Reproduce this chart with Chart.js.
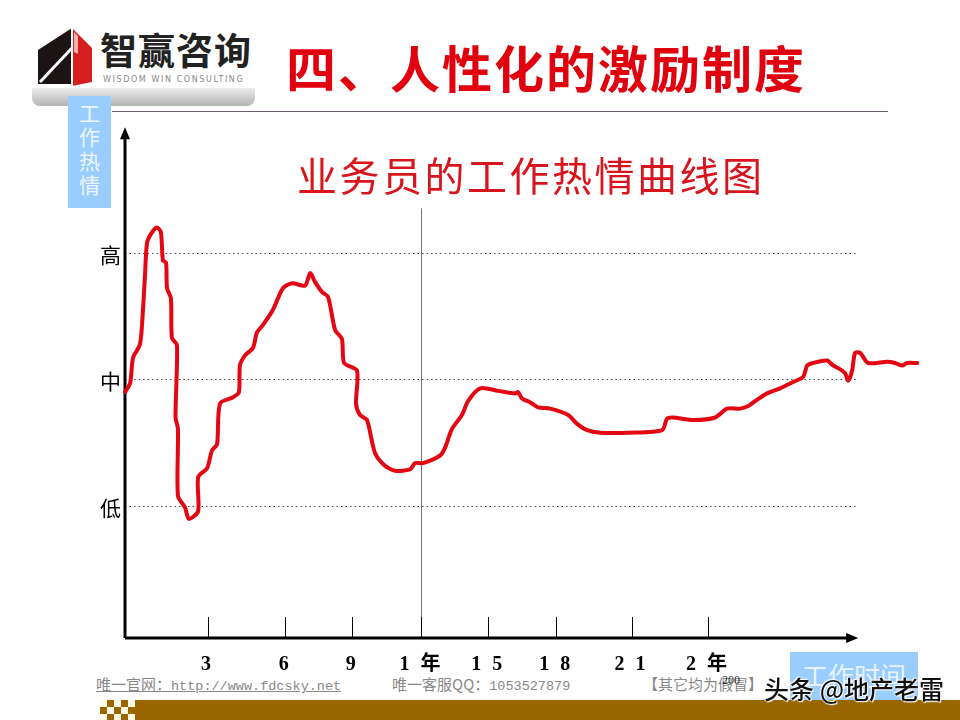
<!DOCTYPE html>
<html>
<head>
<meta charset="utf-8">
<script src="https://cdn.jsdelivr.net/npm/chart.js@4/dist/chart.umd.min.js"></script>
<style>
  html, body { margin: 0; padding: 0; background: #fff; }
  #wrap { position: relative; width: 960px; height: 720px; overflow: hidden; background: #fff; font-family: "Noto Sans CJK SC", "Noto Sans", sans-serif; }
  #chart { position: absolute; left: 0; top: 0; }
  .abs { position: absolute; white-space: nowrap; }
</style>
</head>
<body>
<div id="wrap">
  <!-- header -->
  <div class="abs" style="left:32px;top:86px;width:223px;height:20px;border-radius:0 0 8px 8px;background:linear-gradient(#f2f2f2,#b4b4b4);"></div>
  <div class="abs" style="left:30px;top:22px;width:226px;height:66px;background:#fff;"></div>
  <svg class="abs" style="left:34px;top:24px" width="64" height="64" viewBox="0 0 64 64">
    <polygon points="4,26 38,4 38,60 4,60" fill="#1c1414"/>
    <polygon points="38,4 58,24 58,58 38,62" fill="#d62020"/>
    <polygon points="40,8 44,12 44,30 40,28" fill="#f3b0b0"/>
    <line x1="6" y1="58" x2="38" y2="24" stroke="#fff" stroke-width="3"/>
    <line x1="38" y1="4" x2="38" y2="62" stroke="#fff" stroke-width="2"/>
  </svg>
  <div class="abs" style="left:100px;top:27px;font-size:37px;font-weight:700;color:#222;letter-spacing:1px;line-height:44px;">智赢咨询</div>
  <div class="abs" style="left:103px;top:75px;font-size:8px;color:#888;letter-spacing:1.6px;font-family:'DejaVu Sans',sans-serif;">WISDOM WIN CONSULTING</div>
  <div class="abs" style="left:286px;top:36px;font-size:50px;font-weight:700;color:#e0000e;line-height:60px;letter-spacing:2px;">四、人性化的激励制度</div>
  <div class="abs" style="left:112px;top:111px;width:776px;height:0;border-top:1.5px solid #6b5d6e;"></div>

  <!-- y axis name box -->
  <div class="abs" style="left:68px;top:96px;width:43px;height:112px;background:#99ccff;"></div>
  <div class="abs" style="left:68px;top:100px;width:43px;font-size:21px;line-height:24px;color:#eef7ff;text-align:center;white-space:normal;">工<br>作<br>热<br>情</div>

  <!-- x axis name box -->
  <div class="abs" style="left:790px;top:652px;width:128px;height:48px;background:#99ccff;"></div>
  <div class="abs" style="left:790px;top:657px;width:128px;font-size:26px;line-height:36px;color:#e8f3ff;text-align:center;">工作时间</div>

  <!-- footer -->
  <div class="abs" style="left:96px;top:674px;font-size:15px;color:#888;text-decoration:underline;line-height:20px;">唯一官网：<span style="font-family:'Liberation Mono','DejaVu Sans Mono',monospace;font-size:13.5px;">http://www.fdcsky.net</span></div>
  <div class="abs" style="left:392px;top:674px;font-size:15px;color:#888;line-height:20px;">唯一客服QQ：<span style="font-family:'Liberation Mono','DejaVu Sans Mono',monospace;font-size:13.5px;">1053527879</span></div>
  <div class="abs" style="left:643px;top:674px;font-size:15px;color:#888;line-height:20px;">【其它均为假冒】</div>
  <div class="abs" style="left:722px;top:672px;font-size:12px;color:#333;line-height:16px;font-family:'Liberation Serif',serif;">200</div>

  <div class="abs" style="left:135px;top:700px;width:825px;height:20px;background:#996600;"></div>
  <div class="abs" style="left:100px;top:700px;width:35px;height:20px;background:
    conic-gradient(#996600 25%, #fffbe6 0 50%, #996600 0 75%, #fffbe6 0) 0 0/14px 14px;"></div>

  <canvas id="chart" width="960" height="720"></canvas>

  <div class="abs" style="left:297px;top:148px;font-size:40px;color:#d8141c;line-height:52px;letter-spacing:2.5px;">业务员的工作热情曲线图</div>

  <div class="abs" style="left:764px;top:671px;font-size:25px;font-weight:500;color:#111;line-height:34px;text-shadow:0 0 2px #fff,0 0 2px #fff,1px 1px 1px #fff,-1px -1px 1px #fff;">头条 @地产老雷</div>
</div>

<script>
// ---------- data ----------
// time in months since hiring
const months = [
  0, 0.21, 0.33, 0.62, 0.74, 0.82, 0.91, 1.11, 1.32, 1.48, 1.56, 1.69, 1.73, 1.89, 1.93, 2.14,
  2.08, 2.18, 2.18, 2.47, 2.63, 3.01, 3.01, 3.38, 3.58, 3.79, 3.91, 4.45, 4.69, 4.73, 4.94,
  5.27, 5.43, 5.68, 6.09, 6.50, 6.88, 7.41, 7.62, 7.82, 8.11, 8.36, 8.65, 8.93, 9.02, 9.55,
  9.51, 9.67, 9.96, 10.29, 10.70, 11.12, 11.73, 11.94, 12.27, 12.97, 13.17, 13.46, 13.87, 14.12,
  14.62, 15.36, 16.06, 16.18, 16.34, 16.67, 17.00, 17.50, 18.24, 18.61, 19.02, 19.56, 20.79,
  22.11, 22.31, 22.56, 23.38, 24.29, 24.78, 25.32, 25.65, 25.94, 26.43, 26.97, 27.50, 27.91,
  28.08, 28.32, 28.90, 29.15, 29.44, 29.64, 29.77, 29.93, 30.05, 30.26, 30.59, 31.37, 31.70,
  31.99, 32.19, 32.61
];
// work enthusiasm level (1 = 低, 2 = 中, 3 = 高)
const enthusiasm = [
  1.90, 1.97, 2.17, 2.28, 2.55, 2.81, 3.08, 3.16, 3.20, 3.16, 2.94, 2.92, 2.72, 2.64, 2.33, 2.27,
  1.70, 1.61, 1.08, 0.99, 0.90, 0.96, 1.23, 1.30, 1.44, 1.49, 1.81, 1.86, 1.90, 2.11, 2.19,
  2.25, 2.37, 2.43, 2.55, 2.72, 2.76, 2.74, 2.84, 2.77, 2.69, 2.65, 2.39, 2.32, 2.13, 2.07,
  1.81, 1.72, 1.68, 1.42, 1.32, 1.28, 1.29, 1.34, 1.34, 1.40, 1.46, 1.61, 1.72, 1.83,
  1.93, 1.91, 1.89, 1.90, 1.85, 1.82, 1.78, 1.77, 1.72, 1.65, 1.60, 1.58, 1.58,
  1.60, 1.69, 1.70, 1.68, 1.70, 1.77, 1.77, 1.79, 1.83, 1.89, 1.93, 1.98, 2.02,
  2.11, 2.13, 2.15, 2.11, 2.08, 2.05, 1.99, 2.07, 2.21, 2.21, 2.13, 2.14, 2.13,
  2.11, 2.13, 2.13
];
// x-axis tick marks as drawn (months) and their labels
const xTickValues = [3.4, 6.6, 9.35, 12.2, 14.95, 17.75, 20.85, 24.0];
const xTickLabels = ['3', '6', '9', '1 年', '1 5', '1 8', '2 1', '2 年'];
// y-axis levels and labels
const yLevels = [1, 2, 3];
const yLevelLabels = ['低', '中', '高'];
// axis extents
const xAxisEnd = 30.18;     // arrow tip of the time axis
const yAxisEnd = 3.99;      // arrow tip of the enthusiasm axis
const yearMark = 12.2;      // vertical guide at 1 年
const yearMarkTop = 3.35;

const points = months.map((m, i) => ({ x: m, y: enthusiasm[i] }));

const axesPlugin = {
  id: 'handAxes',
  beforeDatasetsDraw(chart) {
    const { ctx, scales: { x, y } } = chart;
    const x0 = x.getPixelForValue(0), y0 = y.getPixelForValue(y.min);
    ctx.save();
    // dotted level lines
    ctx.strokeStyle = '#444';
    ctx.lineWidth = 1;
    ctx.setLineDash([1.5, 3]);
    yLevels.forEach(v => {
      const py = Math.round(y.getPixelForValue(v)) + 0.5;
      ctx.beginPath();
      ctx.moveTo(x0, py);
      ctx.lineTo(x.getPixelForValue(xAxisEnd), py);
      ctx.stroke();
    });
    ctx.setLineDash([]);
    // vertical guide at 1 year
    ctx.strokeStyle = '#777';
    const gx = Math.round(x.getPixelForValue(yearMark)) + 0.5;
    ctx.beginPath();
    ctx.moveTo(gx, y.getPixelForValue(yearMarkTop));
    ctx.lineTo(gx, y0);
    ctx.stroke();
    // tick marks
    ctx.strokeStyle = '#000';
    xTickValues.forEach(v => {
      const px = Math.round(x.getPixelForValue(v)) + 0.5;
      ctx.beginPath();
      ctx.moveTo(px, y0);
      ctx.lineTo(px, y0 - 21);
      ctx.stroke();
    });
    // axes
    ctx.strokeStyle = '#000';
    ctx.fillStyle = '#000';
    ctx.lineWidth = 3;
    const xEnd = x.getPixelForValue(xAxisEnd), yEnd = y.getPixelForValue(yAxisEnd);
    ctx.beginPath();
    ctx.moveTo(x0, y0);
    ctx.lineTo(xEnd - 8, y0);
    ctx.moveTo(x0, y0);
    ctx.lineTo(x0, yEnd + 8);
    ctx.stroke();
    ctx.beginPath();
    ctx.moveTo(xEnd, y0);
    ctx.lineTo(xEnd - 12, y0 - 5);
    ctx.lineTo(xEnd - 12, y0 + 5);
    ctx.closePath();
    ctx.fill();
    ctx.beginPath();
    ctx.moveTo(x0, yEnd);
    ctx.lineTo(x0 - 5, yEnd + 12);
    ctx.lineTo(x0 + 5, yEnd + 12);
    ctx.closePath();
    ctx.fill();
    ctx.restore();
  },
  afterDraw(chart) {
    const { ctx, scales: { x, y } } = chart;
    const x0 = x.getPixelForValue(0), y0 = y.getPixelForValue(y.min);
    ctx.save();
    ctx.fillStyle = '#000';
    ctx.textBaseline = 'middle';
    ctx.textAlign = 'right';
    ctx.font = '21px "Noto Sans CJK SC", sans-serif';
    yLevels.forEach((v, i) => {
      ctx.fillText(yLevelLabels[i], x0 - 4, y.getPixelForValue(v) + 2);
    });
    ctx.textAlign = 'center';
    ctx.font = 'bold 20px "Liberation Serif", "Noto Sans CJK SC", serif';
    ctx.letterSpacing = '3px';
    xTickValues.forEach((v, i) => {
      ctx.fillText(xTickLabels[i], x.getPixelForValue(v), y0 + 27);
    });
    ctx.restore();
  }
};

new Chart(document.getElementById('chart'), {
  type: 'line',
  data: {
    datasets: [{
      data: points,
      borderColor: '#e30613',
      borderWidth: 4,
      pointRadius: 0,
      tension: 0.25,
      borderJoinStyle: 'round',
      borderCapStyle: 'round',
      fill: false,
      clip: 6
    }]
  },
  options: {
    responsive: false,
    animation: false,
    events: [],
    layout: { padding: { left: 125, right: 43, top: 126, bottom: 82 } },
    plugins: { legend: { display: false }, tooltip: { enabled: false }, title: { display: false } },
    scales: {
      x: { type: 'linear', min: 0, max: 32.6, display: false },
      y: { type: 'linear', min: -0.04, max: 4.0, display: false }
    }
  },
  plugins: [axesPlugin]
});
</script>
</body>
</html>
